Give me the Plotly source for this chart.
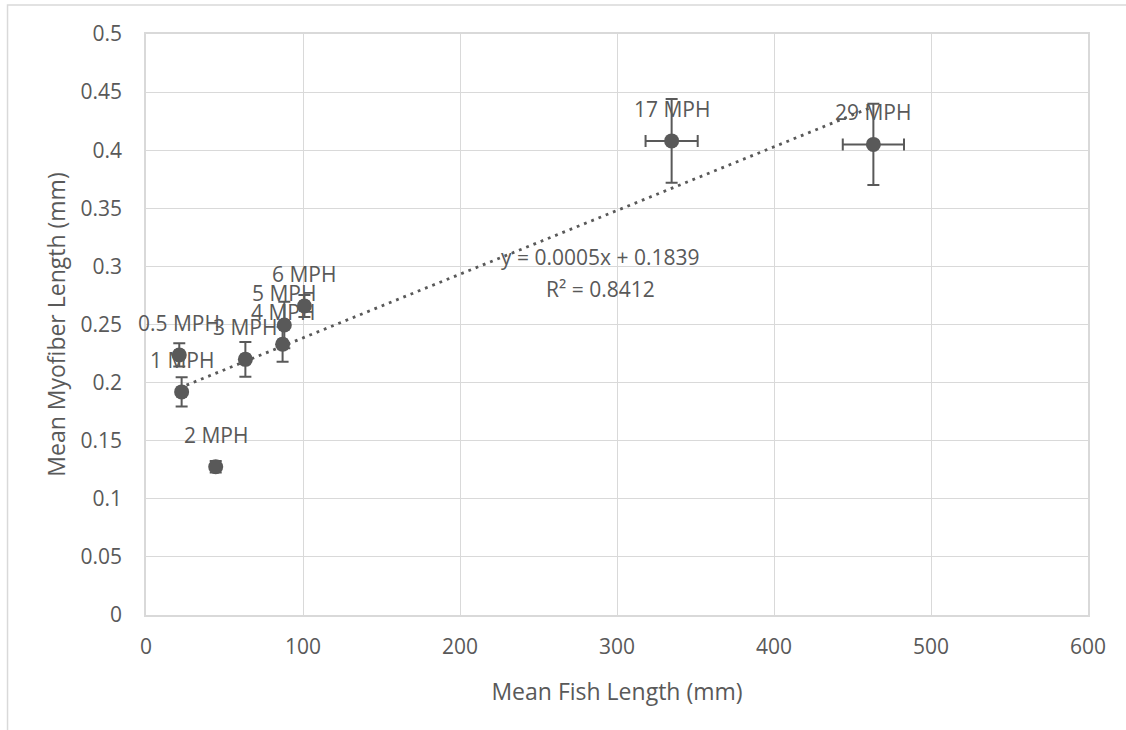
import numpy as np
import plotly.graph_objects as go

# Swim speed groups and their measurements
speeds = ["0.5 MPH", "1 MPH", "2 MPH", "3 MPH", "4 MPH", "5 MPH", "6 MPH", "17 MPH", "29 MPH"]
fish_length = [21.2, 22.7, 44.4, 63.3, 87.0, 88.1, 100.9, 334.8, 463.3]
myofiber_length = [0.2238, 0.192, 0.1276, 0.220, 0.233, 0.2496, 0.2659, 0.408, 0.405]
myofiber_err = [0.010, 0.0125, 0.005, 0.015, 0.015, 0.020, 0.0095, 0.036, 0.035]
fish_err = [2.5, 2.5, 2.5, 2.5, 2.5, 2.5, 2.5, 16.6, 19.5]

x_ticks = [0, 100, 200, 300, 400, 500, 600]
y_ticks = [0, 0.05, 0.1, 0.15, 0.2, 0.25, 0.3, 0.35, 0.4, 0.45, 0.5]
trend_label = ["y = 0.0005x + 0.1839", "R² = 0.8412"]

GRAY = "#595959"
GRID = "#d9d9d9"
FONT = "Open Sans"
SMALL = 21
TITLE = 23

# Linear least-squares trendline over the data range
slope, intercept = np.polyfit(fish_length, myofiber_length, 1)
trend_x = np.array([min(fish_length), max(fish_length)])
trend_y = slope * trend_x + intercept

fig = go.Figure()

fig.add_trace(go.Scatter(
    x=trend_x, y=trend_y, mode="lines",
    line=dict(color=GRAY, width=2.8, dash="2.8px,5px"),
    hoverinfo="skip", showlegend=False,
))

fig.add_trace(go.Scatter(
    x=fish_length, y=myofiber_length, mode="markers",
    marker=dict(color=GRAY, size=15),
    error_y=dict(type="data", array=myofiber_err, color=GRAY, thickness=2, width=6),
    error_x=dict(type="data", array=fish_err, color=GRAY, thickness=2, width=6),
    showlegend=False,
))

# Speed labels above each point
for name, xv, yv in zip(speeds, fish_length, myofiber_length):
    fig.add_annotation(
        x=xv, y=yv, text=name, showarrow=False, yshift=32,
        font=dict(family=FONT, size=SMALL, color=GRAY),
    )

# Trendline equation, one annotation per line
for line_text, ly in zip(trend_label, [0.3081, 0.2806]):
    fig.add_annotation(
        x=289.2, y=ly, text=line_text, showarrow=False,
        font=dict(family=FONT, size=SMALL, color=GRAY),
    )

# Outer chart frame
fig.add_shape(
    type="rect", xref="paper", yref="paper",
    x0=-0.147, x1=1.05, y0=-0.22, y1=1.050,
    line=dict(color=GRID, width=1.5), fillcolor="rgba(0,0,0,0)", layer="below",
)

fig.update_layout(
    width=1126, height=730,
    margin=dict(l=146, r=38, t=34, b=115),
    paper_bgcolor="white", plot_bgcolor="white",
    font=dict(family=FONT, size=SMALL, color=GRAY),
    xaxis=dict(
        range=[0, 600], tickvals=x_ticks, ticktext=[str(v) for v in x_ticks],
        showgrid=True, gridcolor=GRID, gridwidth=1,
        showline=True, linecolor=GRID, linewidth=1.5, mirror=True,
        zeroline=False, ticks="", ticklabelstandoff=12,
        title=dict(text="Mean Fish Length (mm)", standoff=25,
                   font=dict(family=FONT, size=TITLE, color=GRAY)),
        tickfont=dict(family=FONT, size=SMALL, color=GRAY),
    ),
    yaxis=dict(
        range=[0, 0.5], tickvals=y_ticks, ticktext=[f"{v:g}" for v in y_ticks],
        showgrid=True, gridcolor=GRID, gridwidth=1,
        showline=True, linecolor=GRID, linewidth=1.5, mirror=True,
        zeroline=False, ticks="", ticklabelstandoff=18,
        title=dict(text="Mean Myofiber Length (mm)", standoff=8,
                   font=dict(family=FONT, size=TITLE, color=GRAY)),
        tickfont=dict(family=FONT, size=SMALL, color=GRAY),
    ),
)

fig.write_html("out.html")
